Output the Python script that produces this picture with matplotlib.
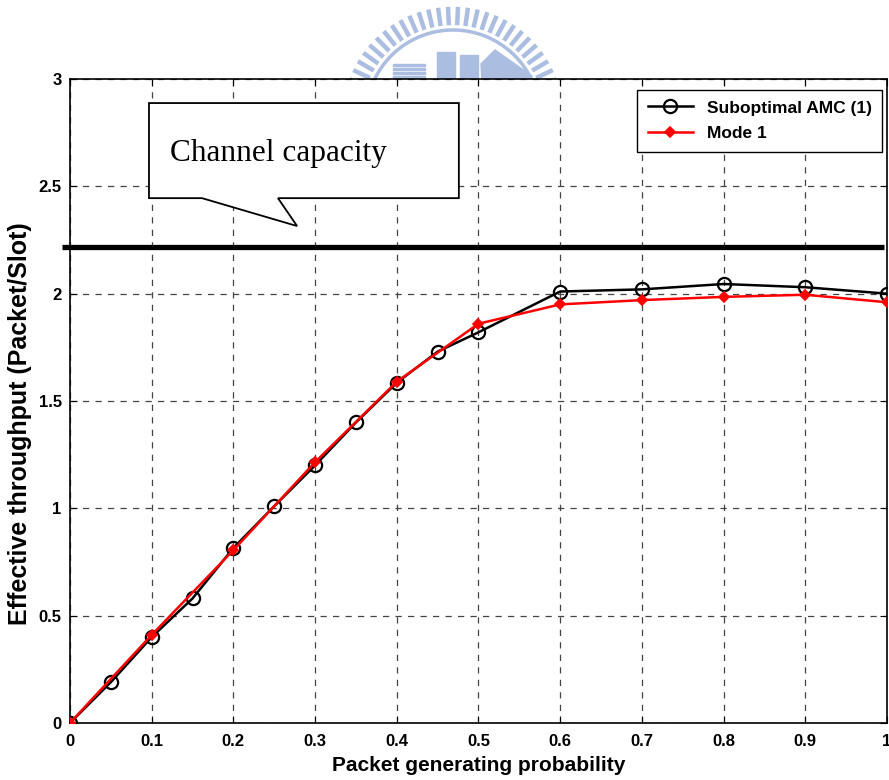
import numpy as np
import matplotlib.pyplot as plt
import matplotlib.transforms as mtransforms
from matplotlib.patches import Polygon, Rectangle
from matplotlib.ticker import FormatStrFormatter, MultipleLocator

# data
p_amc = [0, 0.05, 0.1, 0.15, 0.2, 0.25, 0.3, 0.35, 0.4, 0.45, 0.5, 0.6, 0.7, 0.8, 0.9, 1.0]
thr_amc = [0, 0.19, 0.40, 0.58, 0.815, 1.01, 1.20, 1.40, 1.585, 1.73, 1.82, 2.01, 2.02, 2.045, 2.03, 2.0]
p_mode1 = [0, 0.1, 0.2, 0.3, 0.4, 0.5, 0.6, 0.7, 0.8, 0.9, 1.0]
thr_mode1 = [0, 0.41, 0.805, 1.215, 1.59, 1.86, 1.95, 1.97, 1.985, 1.995, 1.96]
capacity = 2.217
labels = ['Suboptimal AMC (1)', 'Mode 1']

plt.rcParams['font.family'] = ['Liberation Sans', 'DejaVu Sans']

fig = plt.figure(figsize=(8.89, 7.8), dpi=100)
ax = fig.add_axes([0.0787, 0.0731, 0.919, 0.8256])

# faint watermark logo behind the axes (figure pixel coords, y down)
pix = mtransforms.Affine2D().scale(1 / 889, -1 / 780).translate(0, 1) + fig.transFigure
logo_c = '#abbde0'
cx, cy = 453, 117
for a in np.linspace(np.radians(20), np.radians(160), 28):
    xs = [cx + 94 * np.cos(a), cx + 108 * np.cos(a)]
    ys = [cy - 94 * np.sin(a), cy - 108 * np.sin(a)]
    fig.add_artist(plt.Line2D(xs, ys, transform=pix, color=logo_c, lw=3.2, zorder=-1))
t = np.linspace(np.radians(18), np.radians(162), 100)
fig.add_artist(plt.Line2D(cx + 87 * np.cos(t), cy - 87 * np.sin(t), transform=pix,
                          color=logo_c, lw=2.5, zorder=-1))
for (x0, y0, w, h) in [(437, 52, 18, 30), (460, 55, 18, 27)]:
    fig.add_artist(Rectangle((x0, y0), w, h, transform=pix, color=logo_c, zorder=-1))
for yy in range(64, 80, 4):
    fig.add_artist(Rectangle((393, yy), 32, 2.2, transform=pix, color=logo_c, zorder=-1))
fig.add_artist(Polygon([(481, 64), (495, 50), (532, 76), (530, 82), (482, 82)],
                       transform=pix, color=logo_c, zorder=-1))

ax.plot(p_amc, thr_amc, '-o', color='black', lw=1.8, ms=9.5, mfc='none', mew=1.6,
        label=labels[0], zorder=4)
ax.plot(p_mode1, thr_mode1, '-D', color='red', lw=1.8, ms=5, mew=1.2,
        label=labels[1], zorder=5)
ax.plot([-0.01, 0.996], [capacity, capacity], color='black', lw=3.8,
        solid_capstyle='butt', clip_on=False, zorder=3)

# callout box
box = Polygon([(0.0967, 2.888), (0.476, 2.888), (0.476, 2.445), (0.2546, 2.445),
               (0.278, 2.315), (0.1616, 2.445), (0.0967, 2.445)],
              closed=True, facecolor='white', edgecolor='black', lw=1.3, zorder=6)
ax.add_patch(box)
ax.text(0.1224, 2.618, 'Channel capacity', family=['Liberation Serif', 'DejaVu Serif'],
        fontsize=22.5, va='baseline', zorder=7)

ax.set_xlim(0, 1)
ax.set_ylim(0, 3)
ax.xaxis.set_major_locator(MultipleLocator(0.1))
ax.yaxis.set_major_locator(MultipleLocator(0.5))
ax.xaxis.set_major_formatter(FormatStrFormatter('%g'))
ax.yaxis.set_major_formatter(FormatStrFormatter('%g'))
ax.tick_params(direction='in', length=5, top=True, right=True, labelsize=12)
ax.tick_params(axis='x', pad=8)
ax.tick_params(axis='y', pad=6)
for lab in ax.get_xticklabels() + ax.get_yticklabels():
    lab.set_fontweight('bold')
ax.grid(True, linestyle=(0, (5, 5)), color='#444444', lw=0.9)
for s in ax.spines.values():
    s.set_linewidth(1.2)

ax.set_xlabel('Packet generating probability', fontsize=15, fontweight='bold', labelpad=5)
ax.set_ylabel('Effective throughput (Packet/Slot)', fontsize=18, fontweight='bold')
ax.yaxis.set_label_coords(-0.046, 0.465)

leg = ax.legend(loc='upper right', bbox_to_anchor=(0.994, 0.983),
                prop={'weight': 'bold', 'size': 12.5},
                handlelength=2.6, fancybox=False, framealpha=1, edgecolor='black',
                borderaxespad=0, borderpad=0.6, labelspacing=0.62)
leg.get_frame().set_linewidth(1.0)
leg.set_zorder(8)

fig.savefig('out.png', dpi=100)
